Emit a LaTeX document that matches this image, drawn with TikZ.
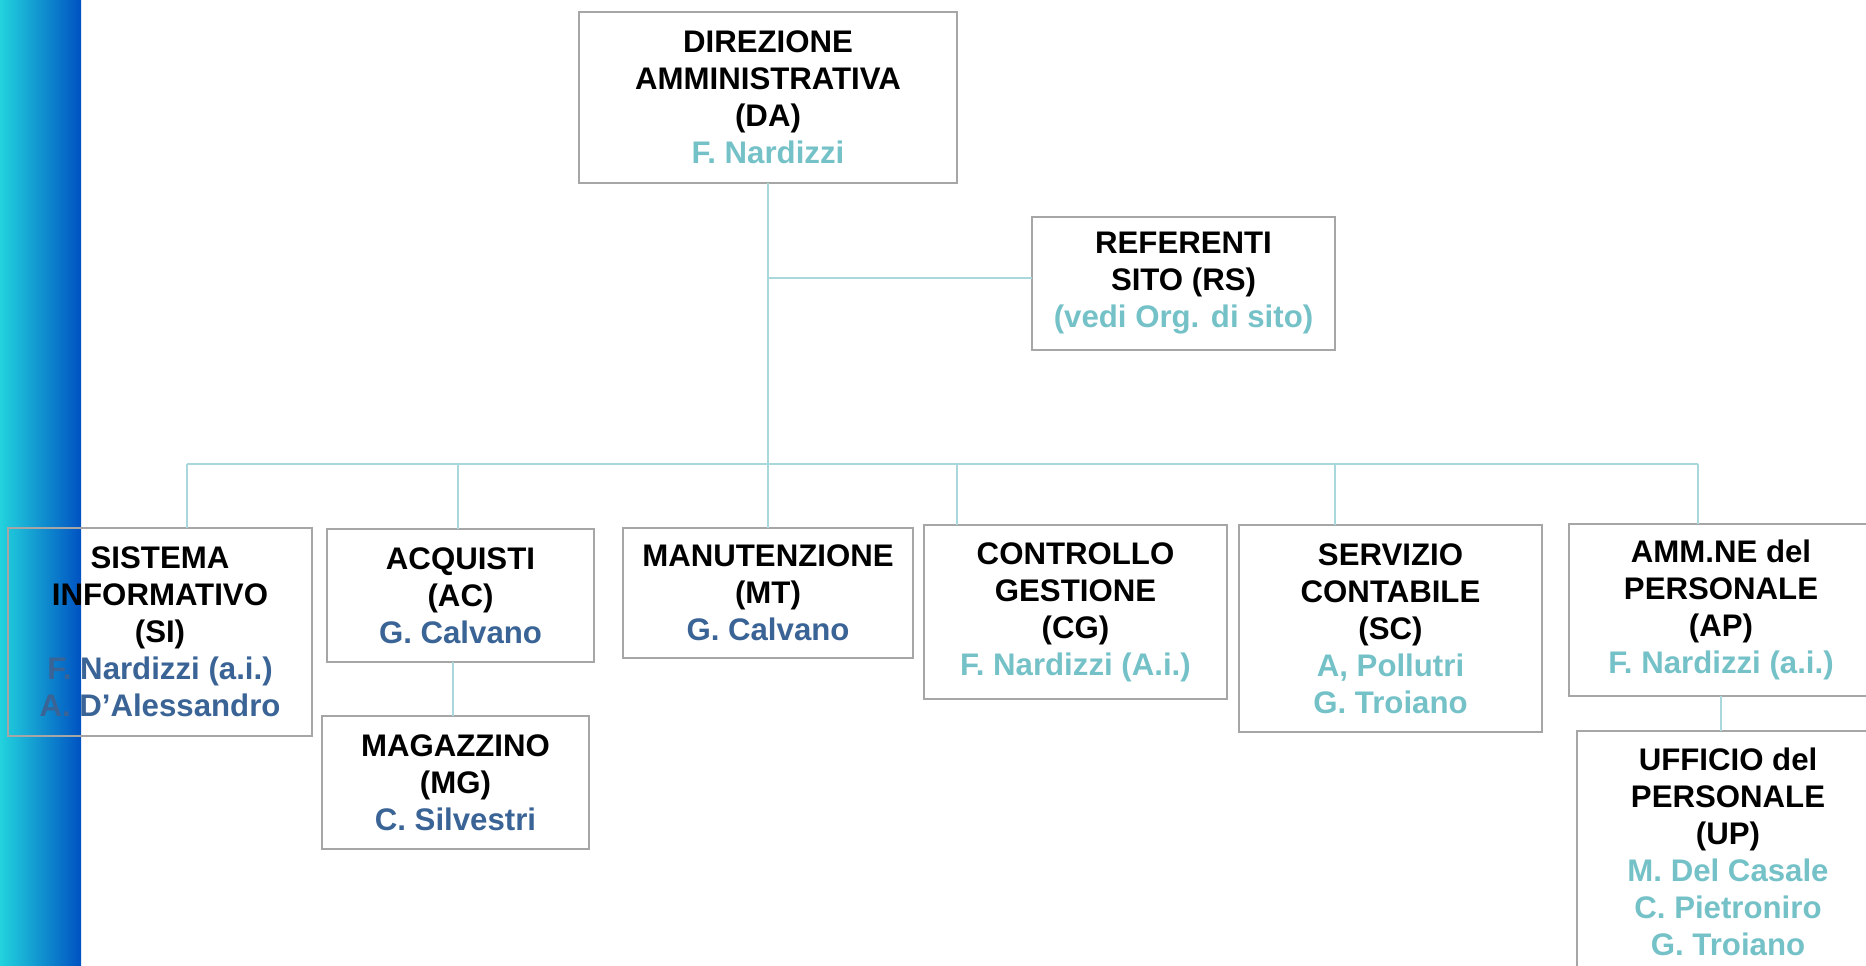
\documentclass[tikz,border=0pt]{standalone}
\usepackage{fontspec}
\setmainfont{Liberation Sans}
\definecolor{boxline}{HTML}{A6A6A6}
\definecolor{wirecol}{HTML}{A8D8DC}
\definecolor{nameteal}{HTML}{74C2C8}
\definecolor{nameblue}{HTML}{3A6396}
\definecolor{bandleft}{HTML}{22D3DD}
\definecolor{bandmid}{HTML}{0A90E2}
\definecolor{bandright}{HTML}{0052C2}

\begin{document}
\begin{tikzpicture}[x=0.5pt,y=-0.5pt,
  unit/.style={draw=boxline, line width=1.3pt, inner sep=0pt, outer sep=0pt,
    align=center, font=\fontsize{15.6}{18.5}\selectfont\bfseries},
  link/.style={draw=wirecol, line width=1pt},
  teal/.style={text=nameteal},
  blue/.style={text=nameblue}]

% page
\useasboundingbox (0,0) rectangle (1866,965);
\clip (0,0) rectangle (1866,965);
\fill[white] (0,0) rectangle (1866,965);

% side band
\shade[left color=bandleft, middle color=bandmid, right color=bandright]
  (0,0) rectangle (81,965);

% units
\node[unit, minimum width=189pt, minimum height=85.5pt] (da) at (768,97.5)
  {DIREZIONE\\AMMINISTRATIVA\\(DA)\\\textcolor{nameteal}{F. Nardizzi}};
\node[unit, minimum width=151.5pt, minimum height=66.5pt] (rs) at (1183.5,283.5)
  {REFERENTI\\SITO (RS)\\\textcolor{nameteal}{(vedi Org. di sito)}};

\node[unit, minimum width=152pt, minimum height=104pt] (si) at (160,632)
  {SISTEMA\\INFORMATIVO\\(SI)\\\textcolor{nameblue}{F. Nardizzi (a.i.)}\\\textcolor{nameblue}{A. D’Alessandro}};
\node[unit, minimum width=133.5pt, minimum height=66.5pt] (ac) at (460.5,595.5)
  {ACQUISTI\\(AC)\\\textcolor{nameblue}{G. Calvano}};
\node[unit, minimum width=133.5pt, minimum height=66.5pt] (mg) at (455.5,782.5)
  {MAGAZZINO\\(MG)\\\textcolor{nameblue}{C. Silvestri}};
\node[unit, minimum width=145pt, minimum height=65pt] (mt) at (768,593)
  {MANUTENZIONE\\(MT)\\\textcolor{nameblue}{G. Calvano}};
\node[unit, minimum width=151.5pt, minimum height=87pt] (cg) at (1075.5,612)
  {CONTROLLO\\GESTIONE\\(CG)\\\textcolor{nameteal}{F. Nardizzi (A.i.)}};
\node[unit, minimum width=151.5pt, minimum height=103.5pt] (sc) at (1390.5,628.5)
  {SERVIZIO\\CONTABILE\\(SC)\\\textcolor{nameteal}{A, Pollutri}\\\textcolor{nameteal}{G. Troiano}};
\node[unit, minimum width=152pt, minimum height=86pt] (ap) at (1721,610)
  {AMM.NE del\\PERSONALE\\(AP)\\\textcolor{nameteal}{F. Nardizzi (a.i.)}};
\node[unit, minimum width=151pt, minimum height=121pt] (up) at (1728,852)
  {UFFICIO del\\PERSONALE\\(UP)\\\textcolor{nameteal}{M. Del Casale}\\\textcolor{nameteal}{C. Pietroniro}\\\textcolor{nameteal}{G. Troiano}};

% junction points
\coordinate (rsj) at (768,278);
\coordinate (bsi) at (187,464);
\coordinate (bac) at (458,464);
\coordinate (bcg) at (957,464);
\coordinate (bsc) at (1335,464);
\coordinate (bap) at (1698,464);
\coordinate (acmg) at (453,662);

% connectors
\draw[link] (da.south) -- (mt.north);
\draw[link] (rsj) -- (rsj -| rs.west);
\draw[link] (bsi) -- (bap);
\draw[link] (bsi) -- (bsi |- si.north);
\draw[link] (bac) -- (bac |- ac.north);
\draw[link] (bcg) -- (bcg |- cg.north);
\draw[link] (bsc) -- (bsc |- sc.north);
\draw[link] (bap) -- (bap |- ap.north);
\draw[link] (acmg) -- (acmg |- mg.north);
\draw[link] (ap.south) -- (ap.south |- up.north);
\end{tikzpicture}
\end{document}
